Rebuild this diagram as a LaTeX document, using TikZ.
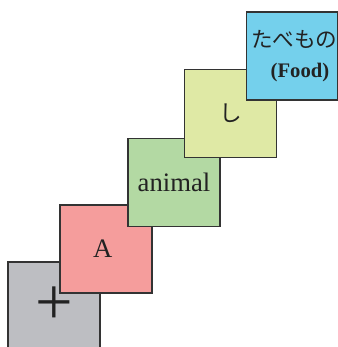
\documentclass[tikz,border=0pt]{standalone}
\usepackage{fontspec}
\setmainfont{Liberation Serif}
\newfontfamily\cjk{Noto Sans CJK JP}
\definecolor{cgray}{HTML}{BDBEC2}
\definecolor{cpink}{HTML}{F59D9C}
\definecolor{cgreen}{HTML}{B3D9A3}
\definecolor{cyellow}{HTML}{DFE9A5}
\definecolor{cblue}{HTML}{74D0EC}
\definecolor{cborder}{HTML}{333333}
\definecolor{ctext}{HTML}{222222}
\begin{document}
\begin{tikzpicture}[x=0.75pt,y=-0.75pt,
  tile/.style={rectangle,draw=cborder,line width=0.9pt,minimum width=69pt,minimum height=66pt,inner sep=0pt,text=ctext,font=\fontsize{20}{24}\selectfont}]
\useasboundingbox (0,0) rectangle (338,347);
\clip (0,0) rectangle (338,347);
\node[tile,fill=cgray] (plus) at (54,306) {\raisebox{-5pt}{\fontsize{50}{50}\selectfont +}};
\node[tile,fill=cpink] (a) at (106,249) {\hspace*{-5pt}A};
\node[tile,fill=cgreen] (animal) at (174,182.5) {\raisebox{-4pt}{animal}};
\node[tile,fill=cyellow] (shi) at (230.5,113.5) {\raisebox{-3pt}{\cjk\fontsize{17}{20}\selectfont し}};
\node[tile,fill=cblue,align=center,minimum width=67.5pt] (food) at (292,56) {\hspace*{3.5pt}{\cjk\fontsize{16.2}{19}\selectfont たべもの}\\[-2pt]\hspace*{12pt}{\bfseries\fontsize{15.5}{18}\selectfont (Food)}};
\end{tikzpicture}
\end{document}
